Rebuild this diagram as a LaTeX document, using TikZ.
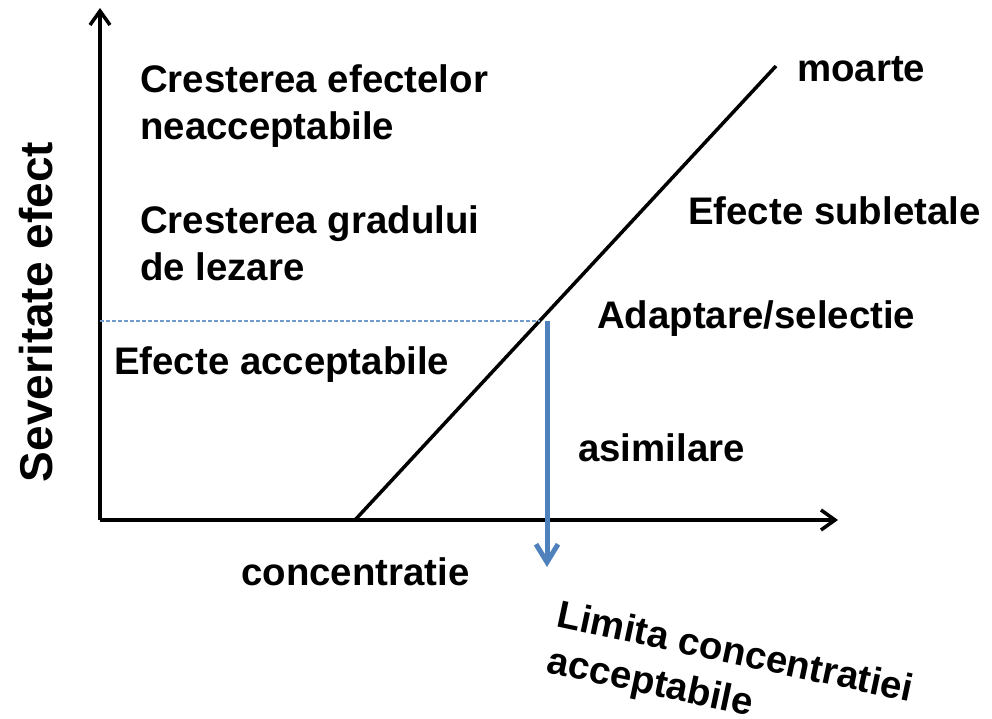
\documentclass[tikz,border=0pt]{standalone}
\usepackage{fontspec}
\setmainfont{Liberation Sans}
\usetikzlibrary{arrows.meta}

\definecolor{limblue}{RGB}{79,129,189}

\tikzset{
  axis/.style={line width=3.5pt, -{Straight Barb[length=14pt,width=20pt]}},
  label/.style={inner sep=0pt, font=\bfseries\fontsize{38.4}{47}\selectfont},
  twoline/.style={label, align=left, anchor=north west}
}

\begin{document}
\begin{tikzpicture}[x=1pt,y=-1pt]
  \useasboundingbox (0,0) rectangle (992,719);

  \coordinate (origin) at (100,520);
  \coordinate (ytop) at (100,8);
  \coordinate (xend) at (838,520);
  \coordinate (lstart) at (355,520);
  \coordinate (lend) at (776,66);
  \coordinate (ylim) at (100,321);
  \coordinate (limit) at (540,321);
  \coordinate (arrtop) at (547,321);
  \coordinate (arrtip) at (547,567);

  \draw [axis] (origin) -- (ytop);
  \draw [axis] (origin) -- (xend);
  \draw [line width=3.5pt] (lstart) -- (lend);

  \draw [line width=1.2pt, color=limblue!80, dash pattern=on 4pt off 2pt] (ylim) -- (limit);
  \draw [line width=5pt, color=limblue, -{Straight Barb[length=18pt,width=22pt]}] (arrtop) -- (arrtip);

  \node [twoline] (inc1) at (140,64) {Cresterea efectelor\\neacceptabile};
  \node [twoline] (inc2) at (140,205) {Cresterea gradului\\de lezare};
  \node [label, anchor=base west] (acc) at (114,374) {Efecte acceptabile};

  \node [label, anchor=base west] (death) at (797,82) {moarte};
  \node [label, anchor=base west] (sublet) at (688,225) {Efecte subletale};
  \node [label, anchor=base west] (adapt) at (597,328) {Adaptare/selectie};
  \node [label, anchor=base west] (assim) at (578,461) {asimilare};

  \node [label, anchor=base west] (xlab) at (241,585) {concentratie};
  \node [label, anchor=base, rotate=90, font=\bfseries\fontsize{46}{55}\selectfont] (ylab) at (52,312) {Severitate efect};

  \node [twoline, rotate=-12] (limtxt) at (561,599) {Limita concentratiei\\acceptabile};

\end{tikzpicture}
\end{document}
